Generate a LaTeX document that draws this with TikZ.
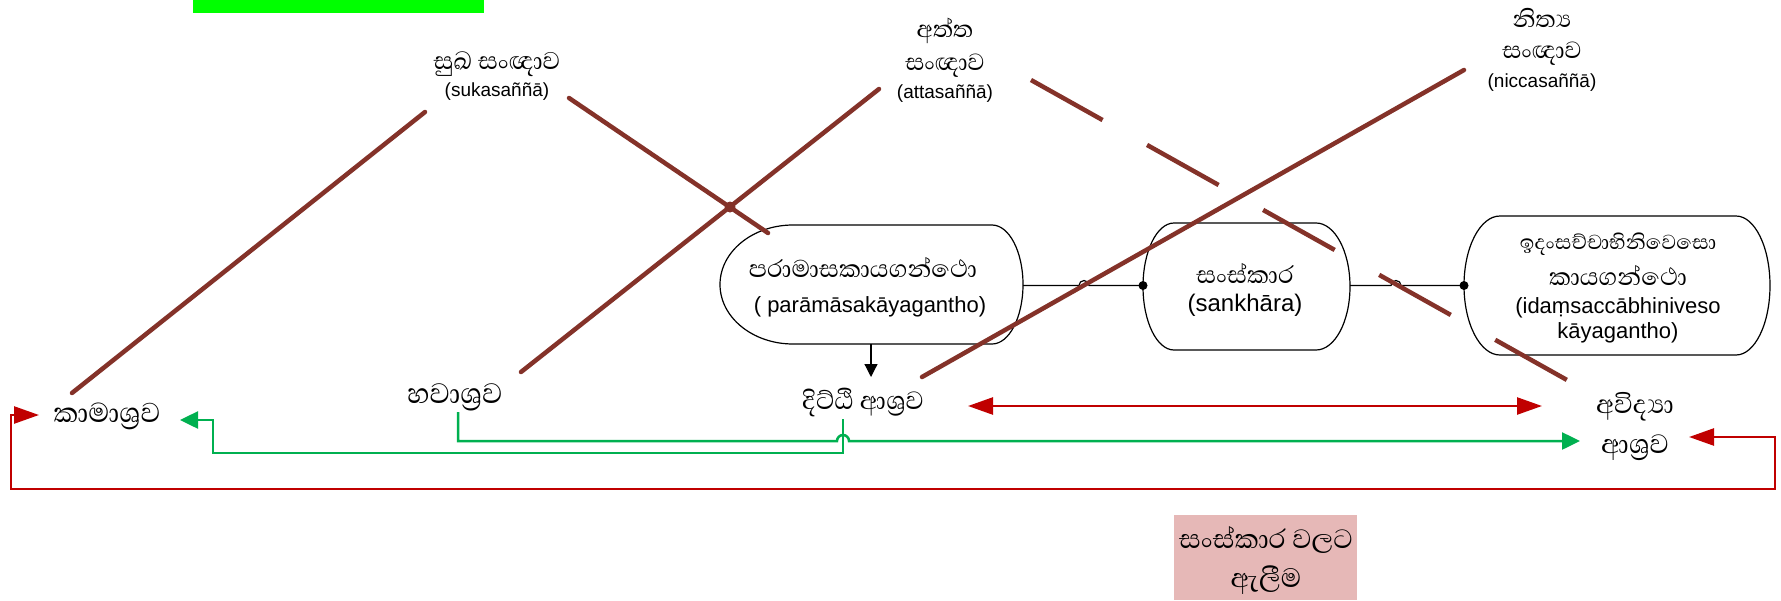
\documentclass[tikz,border=0pt]{standalone}
\usepackage{fontspec}
\setmainfont{Liberation Sans}
\newfontfamily\sinhfont[Script=Sinhala]{Abhaya Libre}
\usetikzlibrary{arrows.meta}
\definecolor{brn}{RGB}{132,50,41}
\definecolor{rd}{RGB}{192,0,0}
\definecolor{gr}{RGB}{0,176,80}
\definecolor{pk}{RGB}{230,184,183}
\definecolor{lime}{RGB}{0,255,0}
\newcommand{\ZJ}{^^^^200d}
\newcommand{\sfs}[1]{\sinhfont\fontsize{#1}{#1}\selectfont}
\begin{document}
\begin{tikzpicture}[x=1pt,y=1pt,
  brline/.style={draw=brn,line width=4.5pt,line cap=round},
  shp/.style={draw=black,line width=1.2pt,fill=white},
  lbl/.style={inner sep=0pt,align=center},
  sn/.style={lbl,font=\sfs{30}},
  lt/.style={lbl,font=\fontsize{19}{23}\selectfont},
  ltn/.style={lbl,font=\fontsize{22}{26}\selectfont},
  conn/.style={draw=black,line width=1.2pt},
  redarr/.style={draw=rd,line width=2.5pt},
  grarr/.style={draw=gr,line width=2.5pt},
  rtip/.tip={Triangle[length=25pt,width=17pt]},
  gtip/.tip={Triangle[length=18pt,width=17pt]},
  btip/.tip={Triangle[length=13pt,width=13pt]}
]
\useasboundingbox (0,0) rectangle (1781,-600);
\fill[white] (0,0) rectangle (1781,-600);

% top green box (clipped)
\fill[lime] (193,0) rectangle (484,-13);

% top labels
\node[sn,font=\sfs{31}] (suk1) at (497,-64) {සුඛ සංඥාව};
\node[lt] (suk2) at (497,-92) {(sukasaññā)};
\node[sn] (atta1) at (945,-31) {අත්ත};
\node[sn] (atta2) at (945,-66) {සංඥාව};
\node[lt] (atta3) at (945,-94) {(attasaññā)};
\node[sn] (nic1) at (1542,-18) {නිත්\ZJ ය};
\node[sn] (nic2) at (1542,-54) {සංඥාව};
\node[lt] (nic3) at (1542,-83) {(niccasaññā)};

% node shapes
\draw[shp] (793,-225) -- (992,-225) arc[start angle=90,end angle=-90,x radius=31,y radius=59.5]
  -- (793,-344) arc[start angle=270,end angle=90,x radius=73,y radius=59.5] -- cycle;
\draw[shp] (1174,-223) -- (1316,-223) arc[start angle=90,end angle=-90,x radius=34,y radius=63.5]
  -- (1174,-350) arc[start angle=270,end angle=90,x radius=31,y radius=63.5] -- cycle;
\draw[shp] (1500,-216) -- (1736,-216) arc[start angle=90,end angle=-90,x radius=34,y radius=69.5]
  -- (1500,-355) arc[start angle=270,end angle=90,x radius=36,y radius=69.5] -- cycle;

\coordinate (parR) at (1023,-285.5);
\coordinate (parB) at (871,-344);
\coordinate (sanL) at (1143,-285.5);
\coordinate (sanR) at (1350,-285.5);
\coordinate (idaL) at (1464,-285.5);

\node[sn,font=\sfs{31}] (par1) at (863,-267) {පරාමාසකායගන්ථො};
\node[ltn] (par2) at (870,-307) {( parāmāsakāyagantho)};
\node[sn,font=\sfs{31}] (san1) at (1245,-273) {සංස්කාර};
\node[lbl,font=\fontsize{24}{28}\selectfont] (san2) at (1245,-305) {(sankhāra)};
\node[sn,font=\sfs{26}] (ida1) at (1618,-244) {ඉදංසච්චාභිනිවෙසො};
\node[sn,font=\sfs{31}] (ida2) at (1618,-275) {කායගන්ථො};
\node[ltn] (ida3) at (1618,-308) {(idaṃsaccābhiniveso};
\node[ltn] (ida4) at (1618,-333) {kāyagantho)};

% connectors between shapes
\draw[conn] (parR) -- (1079,-285.5) arc[start angle=180,end angle=0,radius=5] -- (sanL);
\draw[conn] (sanR) -- (1391,-285.5) arc[start angle=180,end angle=0,radius=5] -- (idaL);
\fill (sanL) circle[radius=4.5];
\fill (idaL) circle[radius=4.5];

% bottom labels
\node[sn,font=\sfs{35}] (kama) at (107,-416) {කාමාශ්\ZJ රව};
\node[sn,font=\sfs{36}] (hava) at (455,-397) {හවාශ්\ZJ රව};
\node[sn,font=\sfs{32}] (dit) at (863,-402) {දිට්ඨි ආශ්\ZJ රව};
\node[sn,font=\sfs{33}] (avi1) at (1635,-407) {අවිද්\ZJ යා};
\node[sn,font=\sfs{34}] (avi2) at (1635,-448) {ආශ්\ZJ රව};

\coordinate (ditT) at (871,-377);
\draw[conn,-btip] (parB) -- (ditT);

% brown lines
\coordinate (sukL) at (425,-112);
\coordinate (sukR) at (569,-98);
\coordinate (attL) at (879,-89);
\coordinate (attR) at (1031,-80);
\coordinate (nicL) at (1464,-70);
\coordinate (kamaT) at (72,-393);
\coordinate (parTL) at (768,-233);
\coordinate (havaT) at (521,-372);
\coordinate (aviT) at (1567,-380);
\coordinate (ditTR) at (922,-377);
\draw[brline] (sukL) -- (kamaT);
\draw[brline] (sukR) -- (parTL);
\draw[brline] (attL) -- (havaT);
\draw[brline,dash pattern=on 82pt off 51pt,line cap=butt] (attR) -- (aviT);
\draw[brline] (nicL) -- (ditTR);
\fill[brn] (730,-207) circle[radius=5.5];

% red double arrow
\coordinate (ditR) at (968,-406);
\coordinate (aviL1) at (1542,-406);
\draw[redarr,rtip-rtip] (ditR) -- (aviL1);

% green arrows
\coordinate (havaB) at (458,-412);
\coordinate (aviL2) at (1580,-441);
\coordinate (ditB) at (843,-419);
\coordinate (kamaR) at (180,-420);
\draw[grarr,-gtip] (havaB) -- (458,-441) -- (837,-441) arc[start angle=180,end angle=0,radius=6] -- (aviL2);
\draw[grarr,-gtip] (ditB) -- (843,-453) -- (213,-453) -- (213,-420) -- (kamaR);

% red loop
\coordinate (kamaL) at (39,-415);
\coordinate (aviR) at (1689,-437);
\draw[redarr,rtip-rtip] (kamaL) -- (11,-415) -- (11,-489) -- (1775,-489) -- (1775,-437) -- (aviR);

% pink box
\fill[pk] (1174,-515) rectangle (1357,-600);
\node[sn,font=\sfs{34}] (pk1) at (1266,-540) {සංස්කාර වලට};
\node[sn,font=\sfs{34}] (pk2) at (1266,-580) {ඇලීම};
\end{tikzpicture}
\end{document}
